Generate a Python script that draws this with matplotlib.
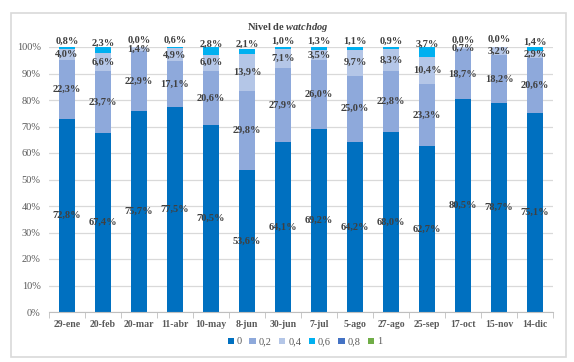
import matplotlib.pyplot as plt
from matplotlib.patches import Rectangle
import numpy as np

plt.rcParams['font.family'] = 'Liberation Serif'
plt.rcParams['mathtext.fontset'] = 'custom'
plt.rcParams['mathtext.rm'] = 'Liberation Serif:bold'
plt.rcParams['mathtext.it'] = 'Liberation Serif:italic:bold'

fechas = ['29-ene', '20-feb', '20-mar', '11-abr', '10-may', '8-jun', '30-jun',
          '7-jul', '5-ago', '27-ago', '25-sep', '17-oct', '15-nov', '14-dic']
s0 = [72.8, 67.4, 75.7, 77.5, 70.5, 53.6, 64.1, 69.2, 64.2, 68.0, 62.7, 80.5, 78.7, 75.1]
s02 = [22.3, 23.7, 22.9, 17.1, 20.6, 29.8, 27.9, 26.0, 25.0, 22.8, 23.3, 18.7, 18.2, 20.6]
s04 = [4.0, 6.6, 1.4, 4.9, 6.0, 13.9, 7.1, 3.5, 9.7, 8.3, 10.4, 0.7, 3.2, 2.9]
s06 = [0.8, 2.3, 0.0, 0.6, 2.8, 2.1, 1.0, 1.3, 1.1, 0.9, 3.7, 0.0, 0.0, 1.4]
s08 = [0.0] * 14
s1 = [0.0] * 14

series = [s0, s02, s04, s06, s08, s1]
nombres = ['0', '0,2', '0,4', '0,6', '0,8', '1']
colores = ['#0070C0', '#8EA9DB', '#B4C6E7', '#00B0F0', '#4472C4', '#70AD47']
etiquetar = [True, True, True, True, False, False]

fig = plt.figure(figsize=(5.74, 3.62), dpi=100)
fig.patches.append(Rectangle((10.7 / 574, 1 - 356.7 / 362), (566 - 10.7) / 574, (356.7 - 12.7) / 362,
                             transform=fig.transFigure, fill=False, edgecolor='#D9D9D9', lw=1.2))

ax = fig.add_axes([49 / 574, 50 / 362, 504 / 574, 265 / 362])
x = np.arange(len(fechas))
base = np.zeros(len(fechas))
txt = '#404040'
for vals, nom, col, lab in zip(series, nombres, colores, etiquetar):
    vals = np.array(vals)
    ax.bar(x, vals, 0.42, bottom=base, color=col, label=nom, zorder=2)
    if lab:
        for i, v in enumerate(vals):
            yy = base[i] + v / 2
            dy = 5 if nom == '0,6' else 0
            ax.annotate(('%.1f%%' % v).replace('.', ','), (x[i], yy), xytext=(0, dy),
                        textcoords='offset points', ha='center', va='center',
                        fontsize=7.5, fontweight='bold', color=txt, zorder=3)
    base = base + vals

ax.set_xlim(-0.5, len(fechas) - 0.5)
ax.set_ylim(0, 100)
ax.set_yticks(np.arange(0, 101, 10))
ax.set_yticklabels(['%d%%' % v for v in range(0, 101, 10)], fontsize=7.5, color='#595959')
ax.yaxis.grid(True, color='#D9D9D9', lw=0.9, zorder=0)
ax.set_xticks(x)
ax.set_xticklabels(fechas, fontsize=7, fontweight='bold', color='#595959')
ax.set_xticks(np.arange(-0.5, len(fechas), 1), minor=True)
ax.tick_params(axis='x', which='major', length=0, pad=6)
ax.tick_params(axis='x', which='minor', length=4, color='#BFBFBF')
ax.tick_params(axis='y', length=0, pad=6)
for s in ['top', 'right', 'left']:
    ax.spines[s].set_visible(False)
ax.spines['bottom'].set_color('#BFBFBF')

fig.text(288 / 574, 1 - 27 / 362, r'$\mathrm{Nivel\ de\ }\mathit{watchdog}$', ha='center', va='center',
         fontsize=7.5, color='#404040')

fig.legend(loc='center', bbox_to_anchor=(305 / 574, 1 - 342 / 362), ncol=6, frameon=False,
           fontsize=7.5, handlelength=0.6, handleheight=0.6, handletextpad=0.3, columnspacing=0.7,
           labelcolor='#595959')

fig.savefig('out.png', dpi=100)
